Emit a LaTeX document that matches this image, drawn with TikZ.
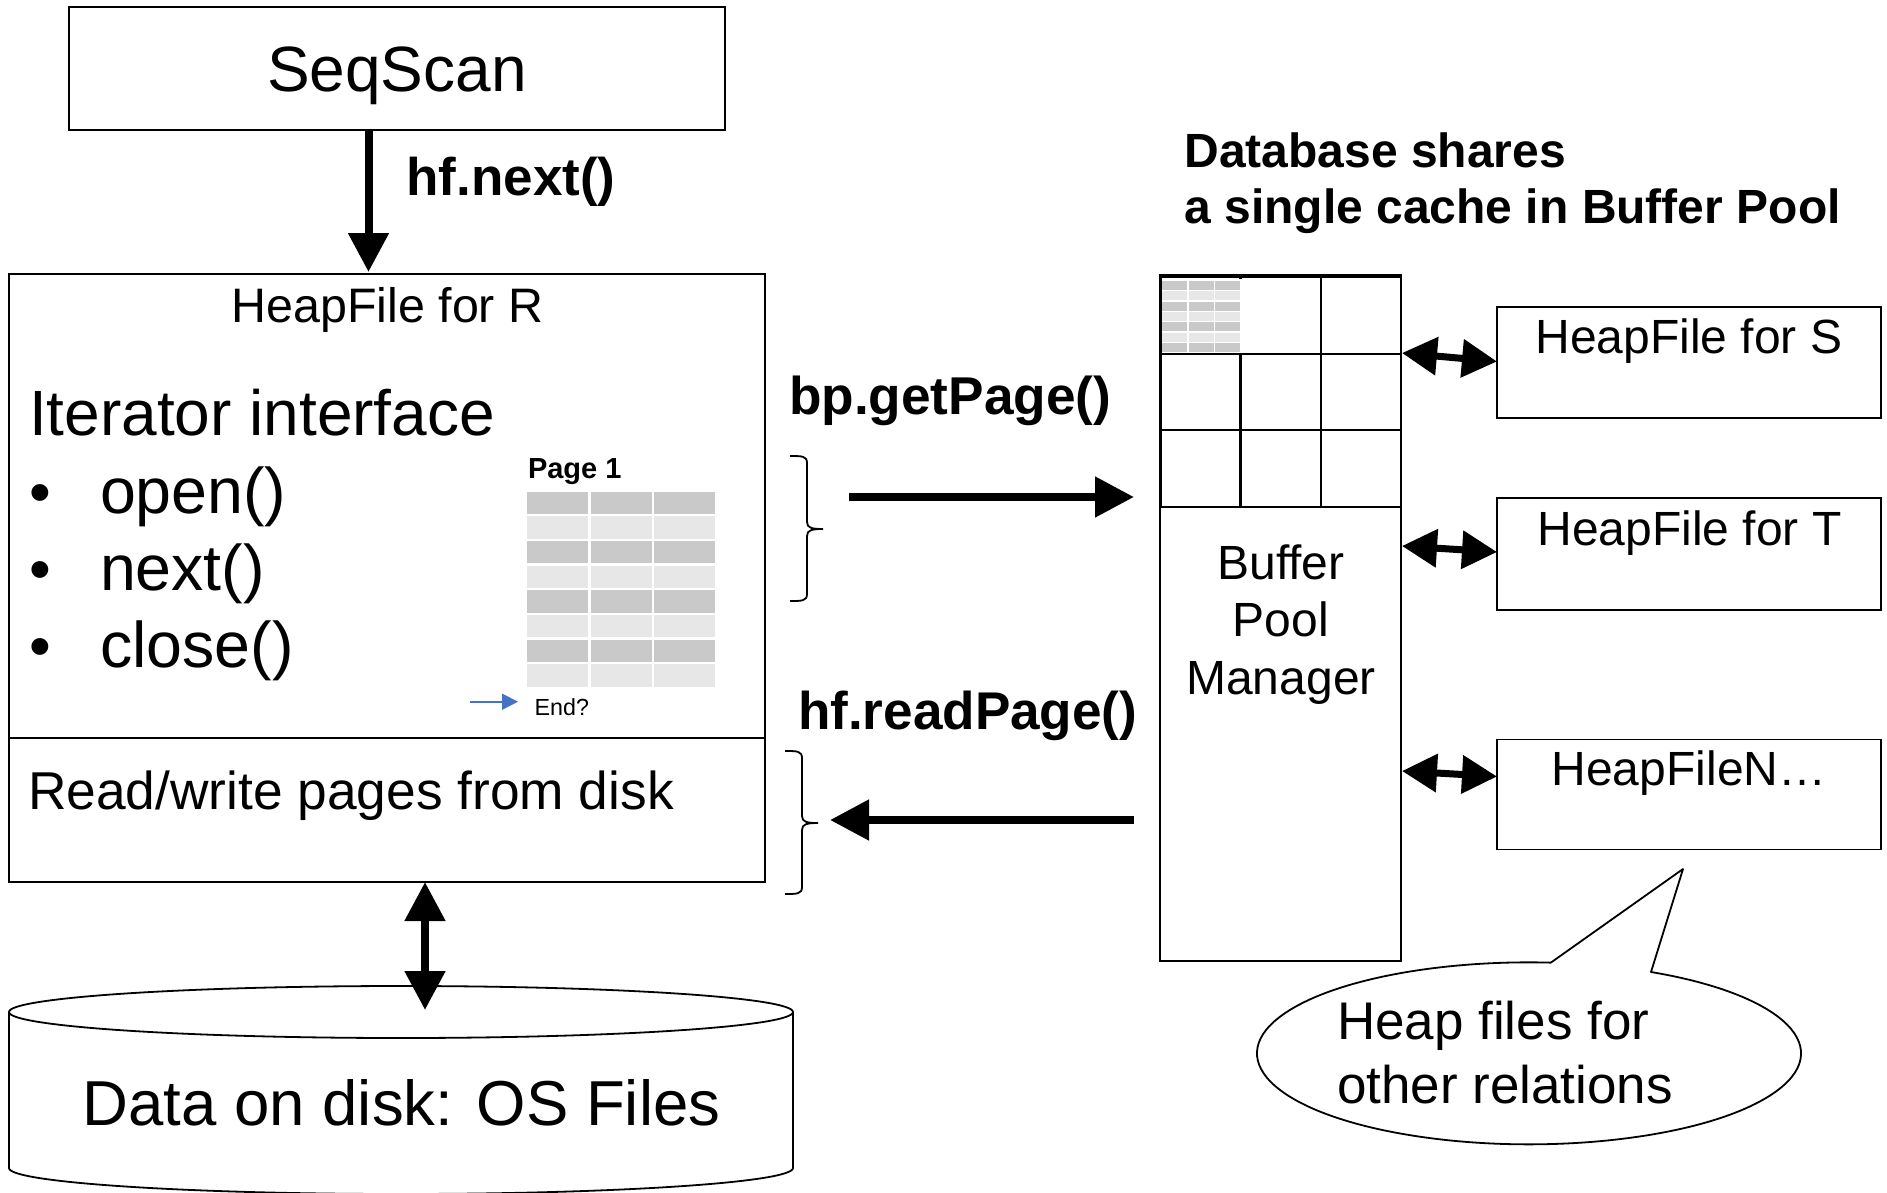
\documentclass[tikz,border=0pt]{standalone}
\usepackage{fontspec}
\setmainfont{Liberation Sans}
\usetikzlibrary{arrows.meta}
\newcommand{\fsz}[2][]{\fontsize{#2}{#2}\selectfont}
\tikzset{
  box/.style={draw=black,line width=1.8pt,rectangle,inner sep=0pt,outer sep=0pt},
  txt/.style={inner sep=0pt,outer sep=0pt,anchor=base west},
  ctxt/.style={inner sep=0pt,outer sep=0pt,anchor=base},
  bigarrow/.style={line width=8pt,-{Triangle[length=39pt,width=39pt]}},
  dblarrow/.style={line width=8pt,{Triangle[length=39pt,width=39pt]}-{Triangle[length=39pt,width=39pt]}},
  sidearrow/.style={line width=7pt,{Triangle[length=35pt,width=37pt]}-{Triangle[length=35pt,width=37pt]}},
  thinline/.style={line width=1.8pt,line join=round},
}
\definecolor{celldark}{HTML}{C9C9C9}
\definecolor{celllight}{HTML}{E7E7E7}
\definecolor{bluearrow}{HTML}{4472C4}
\begin{document}
\begin{tikzpicture}[x=1pt,y=-1pt]
\useasboundingbox (0,0) rectangle (1887,1192);
\fill[white] (0,0) rectangle (1887,1192);

% SeqScan
\node[box,minimum width=656pt,minimum height=123pt] (seqscan) at (397,68.5) {};
\node[ctxt,font=\fsz{64}] (seqscantext) at (397,91) {SeqScan};

% HeapFile for R
\node[box,minimum width=756pt,minimum height=608pt] (heapr) at (387,578) {};
\coordinate (divl) at (heapr.west |- 0,738);
\coordinate (divr) at (heapr.east |- 0,738);
\draw[thinline] (divl) -- (divr);
\node[ctxt,font=\fsz{48.4}] (heaprtext) at (387.5,322) {HeapFile for R};
\node[txt,font=\fsz{64}] (iter) at (29,435) {Iterator interface};
\node[ctxt,font=\fsz{62}] (b1) at (40,513) {•};
\node[ctxt,font=\fsz{62}] (b2) at (40,590) {•};
\node[ctxt,font=\fsz{62}] (b3) at (40,667) {•};
\node[txt,font=\fsz{64.5}] (open) at (100,513) {open()};
\node[txt,font=\fsz{64.5}] (next) at (100,590) {next()};
\node[txt,font=\fsz{64.5}] (close) at (100,667) {close()};
\node[txt,font=\fsz{53.3}] (rw) at (28,809) {Read/write pages from disk};

% Page table
\node[txt,font=\bfseries\fsz{29}] (page1) at (528,478.5) {Page 1};
\foreach \r/\col in {0/celldark,1/celllight,2/celldark,3/celllight,4/celldark,5/celllight,6/celldark,7/celllight}
  \foreach \cx in {527.3,591,654}
    \fill[\col] (\cx,491.7+24.67*\r) rectangle (\cx+60.7,491.7+24.67*\r+22.3);
\coordinate (endfrom) at (470,701.7);
\coordinate (endto) at (518,701.7);
\draw[bluearrow,line width=1.6pt,-{Triangle[length=16pt,width=16pt]}] (endfrom) -- (endto);
\node[txt,font=\fsz{23.3}] (endq) at (534.7,715.7) {End?};

% Disk
\draw[thinline,fill=white] (9,1012) -- (9,1168) arc[start angle=180,end angle=360,x radius=392pt,y radius=26pt] -- (793,1012);
\draw[thinline] (601,1012) ++(192,0) arc[start angle=0,end angle=360,x radius=392pt,y radius=26pt];
\node[ctxt,font=\fsz{63.5}] (disktext) at (401.5,1125) {Data on disk: OS Files};

% Arrows left column
\coordinate (seqout) at (368.5,130);
\coordinate (heapin) at (368.5,272);
\draw[bigarrow] (seqout) -- (heapin);
\node[txt,font=\bfseries\fsz{53}] (hfnext) at (406.5,195) {hf.next()};
\coordinate (heapout) at (425,882);
\coordinate (diskin) at (425,1010);
\draw[dblarrow] (heapout) -- (diskin);

% Braces
\draw[line width=1.8pt] (790,456) .. controls (802,456) and (807,456) .. (807,463) -- (807,522) .. controls (807,528) and (812,529) .. (823,529) .. controls (812,529) and (807,530) .. (807,536) -- (807,594) .. controls (807,601) and (802,601) .. (790,601);
\draw[line width=1.8pt] (785,751) .. controls (797,751) and (802,751) .. (802,758) -- (802,816) .. controls (802,822) and (807,823) .. (818,823) .. controls (807,823) and (802,824) .. (802,830) -- (802,887) .. controls (802,894) and (797,894) .. (785,894);

% Middle arrows
\node[txt,font=\bfseries\fsz{53.2}] (getpage) at (789,414) {bp.getPage()};
\node[txt,font=\bfseries\fsz{53.1}] (readpage) at (798,729) {hf.readPage()};
\coordinate (ra) at (849,497);
\coordinate (rb) at (1134,497);
\coordinate (la) at (1134,820);
\coordinate (lb) at (830,820);
\draw[bigarrow] (ra) -- (rb);
\draw[bigarrow] (la) -- (lb);

% Buffer pool
\node[txt,font=\bfseries\fsz{48}] (dbtext1) at (1184.5,167) {Database shares};
\node[txt,font=\bfseries\fsz{48}] (dbtext2) at (1184.5,223) {a single cache in Buffer Pool};
\node[box,minimum width=241pt,minimum height=686pt] (pool) at (1280.5,618) {};
\foreach \yy in {277,354,430,507}
  \draw[line width=2.6pt] (1160,\yy) -- (1401,\yy);
\foreach \xx in {1240.7,1321,1401}
  \draw[line width=2.6pt] (\xx,277) -- (\xx,507);
\draw[line width=3pt] (1160,275) -- (1160,507);
\fill[white] (1161.7,278.5) rectangle (1242.5,352.5);
\foreach \r/\col in {0/celldark,1/celllight,2/celldark,3/celllight,4/celldark,5/celllight,6/celldark}
  \foreach \cx in {1162,1189,1215.3}
    \fill[\col] (\cx,281+10.33*\r) rectangle (\cx+25,281+10.33*\r+9);
\node[ctxt,font=\fsz{48}] (bpm1) at (1281,579) {Buffer};
\node[ctxt,font=\fsz{48}] (bpm2) at (1281,636) {Pool};
\node[ctxt,font=\fsz{48}] (bpm3) at (1281,694) {Manager};

% Heap files
\node[box,minimum width=384pt,minimum height=111pt] (hs) at (1689,362.5) {};
\node[box,minimum width=384pt,minimum height=112pt] (ht) at (1689,554) {};
\node[box,minimum width=384pt,minimum height=110pt] (hn) at (1689,794.5) {};
\node[ctxt,font=\fsz{48}] (hstext) at (1689,353) {HeapFile for S};
\node[ctxt,font=\fsz{48}] (httext) at (1689.5,545) {HeapFile for T};
\node[ctxt,font=\fsz{48}] (hntext) at (1689,785) {HeapFileN…};
\coordinate (sa) at (1402,353);
\coordinate (sb) at (1497,361.5);
\coordinate (ta) at (1402,546);
\coordinate (tb) at (1497,552);
\coordinate (na) at (1402,771);
\coordinate (nb) at (1497,776.5);
\draw[sidearrow] (sa) -- (sb);
\draw[sidearrow] (ta) -- (tb);
\draw[sidearrow] (na) -- (nb);

% Callout
\draw[thinline] (1651,972) arc[start angle=63.35,end angle=-274.6,x radius=272pt,y radius=91pt] -- (1683,869) -- cycle;
\node[txt,font=\fsz{53}] (heap1) at (1337,1039) {Heap files for};
\node[txt,font=\fsz{53}] (heap2) at (1337,1103) {other relations};
\end{tikzpicture}
\end{document}
